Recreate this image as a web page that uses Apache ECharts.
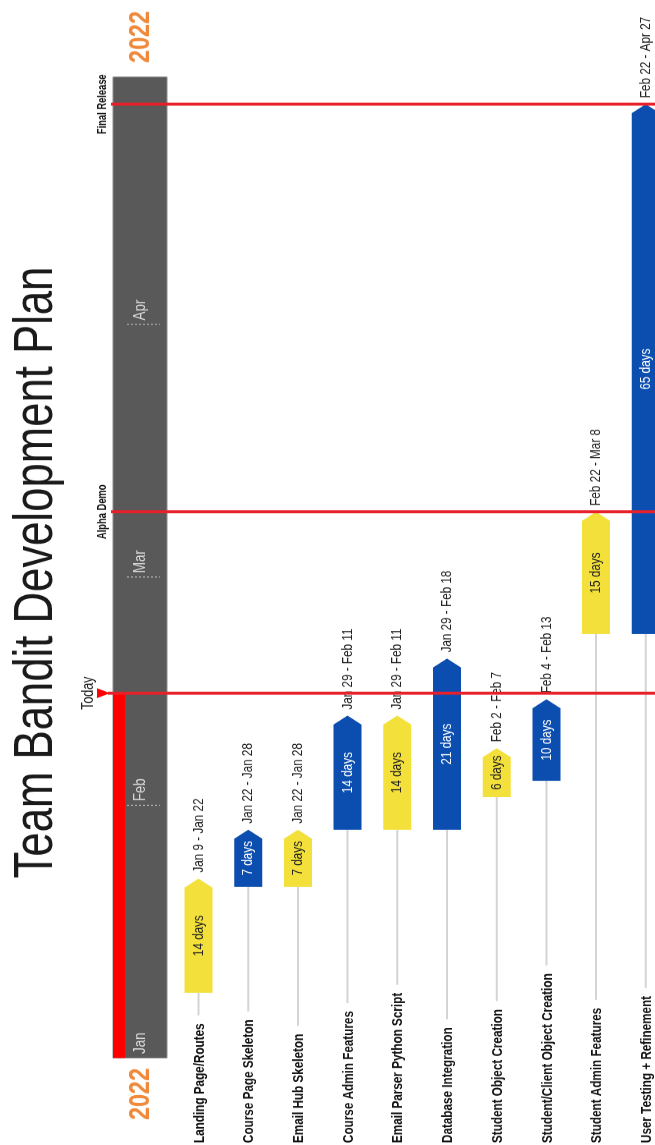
<!DOCTYPE html>
<html><head><meta charset="utf-8">
<script src="https://cdn.jsdelivr.net/npm/echarts@6/dist/echarts.min.js"></script>
<style>
html,body{margin:0;padding:0;overflow:hidden;width:655px;height:1145px;background:#fff;}
#wrap{position:absolute;left:0;top:0;width:655px;height:1145px;overflow:hidden;}
#chart{position:absolute;left:0;top:0;width:1468px;height:655px;transform-origin:0 0;transform:translate(0,1145px) rotate(-90deg) scale(0.779973,1);}
</style></head><body><div id="wrap"><div id="chart"></div></div>
<script>
// ---- data ----
const titleText = 'Team Bandit Development Plan';
const yearLabel = '2022';
const timelineStart = '2022-01-01';
const timelineEnd = '2022-05-01 08:00';
const months = ['Jan', 'Feb', 'Mar', 'Apr'];
const monthStarts = ['2022-01-01', '2022-02-01', '2022-03-01', '2022-04-01'];
const todayLabel = 'Today';
const todayDate = '2022-02-14 18:00';
const milestoneNames = ['Alpha Demo', 'Final Release'];
const milestoneDates = ['2022-03-09', '2022-04-28'];
const taskNames = ['Landing Page/Routes', 'Course Page Skeleton', 'Email Hub Skeleton', 'Course Admin Features',
  'Email Parser Python Script', 'Database Integration', 'Student Object Creation',
  'Student/Client Object Creation', 'Student Admin Features', 'User Testing + Refinement'];
const taskStarts = ['2022-01-09', '2022-01-22', '2022-01-22', '2022-01-29', '2022-01-29', '2022-01-29', '2022-02-02', '2022-02-04', '2022-02-22', '2022-02-22'];
const taskEnds = ['2022-01-22', '2022-01-28', '2022-01-28', '2022-02-11', '2022-02-11', '2022-02-18', '2022-02-07', '2022-02-13', '2022-03-08', '2022-04-27'];
const taskDays = [14, 7, 7, 14, 14, 21, 6, 10, 15, 65];
const taskDateText = ['Jan 9 - Jan 22', 'Jan 22 - Jan 28', 'Jan 22 - Jan 28', 'Jan 29 - Feb 11', 'Jan 29 - Feb 11',
  'Jan 29 - Feb 18', 'Feb 2 - Feb 7', 'Feb 4 - Feb 13', 'Feb 22 - Mar 8', 'Feb 22 - Apr 27'];
const YELLOW = '#F3E03B', BLUE = '#0B4EB0';
const taskColors = [YELLOW, BLUE, YELLOW, BLUE, YELLOW, BLUE, YELLOW, BLUE, YELLOW, BLUE];

// ---- helpers ----
const S = 1145 / 1468;
const px = v => v / S;
const FONT = "'Liberation Sans', Arial, Helvetica, sans-serif";
function parseT(s) {
  const m = s.match(/(\d+)-(\d+)-(\d+)(?: (\d+):(\d+))?/);
  return new Date(+m[1], +m[2] - 1, +m[3], +(m[4] || 0), +(m[5] || 0)).getTime();
}
function dayAfter(s) {
  const t = new Date(parseT(s));
  return new Date(t.getFullYear(), t.getMonth(), t.getDate() + 1).getTime();
}
const RED = '#E8202A';

const chart = echarts.init(document.getElementById('chart'));
const option = {
  animation: false,
  backgroundColor: '#fff',
  title: {
    text: titleText, left: 'center', top: 4,
    textStyle: { fontSize: 56, fontWeight: 'normal', color: '#1a1a1a', fontFamily: FONT }
  },
  grid: { left: px(87), right: px(77), top: 173.65, height: 472.15 },
  xAxis: { type: 'time', min: parseT(timelineStart), max: parseT(timelineEnd), show: false },
  yAxis: { type: 'value', min: -0.5, max: 9, inverse: true, show: false },
  series: [
    { // timeline band + year labels
      type: 'custom', clip: false, silent: true, z: 1,
      data: [[parseT(timelineStart), parseT(timelineEnd)]],
      encode: { x: [0, 1] },
      renderItem: (params, api) => {
        const a = api.coord([api.value(0), 0]);
        const b = api.coord([api.value(1), 0]);
        return { type: 'group', children: [
          { type: 'rect', shape: { x: a[0], y: 113, width: b[0] - a[0], height: 54 }, style: { fill: '#595959', stroke: '#8c8c8c', lineWidth: 1 } },
          { type: 'text', style: { text: yearLabel, x: a[0] - px(10), y: 141, align: 'right', verticalAlign: 'middle', font: `bold 30px ${FONT}`, fill: '#F0893A' } },
          { type: 'text', style: { text: yearLabel, x: b[0] + px(14), y: 141, align: 'left', verticalAlign: 'middle', font: `bold 30px ${FONT}`, fill: '#F0893A' } }
        ] };
      }
    },
    { // progress to today
      type: 'custom', clip: false, silent: true, z: 2,
      data: [[parseT(timelineStart), parseT(todayDate)]],
      encode: { x: [0, 1] },
      renderItem: (params, api) => {
        const a = api.coord([api.value(0), 0]);
        const b = api.coord([api.value(1), 0]);
        return { type: 'rect', shape: { x: a[0], y: 113, width: b[0] - a[0], height: 12 }, style: { fill: '#FF0000' } };
      }
    },
    { // month labels
      type: 'custom', clip: false, silent: true, z: 3,
      data: monthStarts.map((m, i) => [parseT(m), i]),
      encode: { x: 0 },
      renderItem: (params, api) => {
        const idx = api.value(1);
        const x = api.coord([api.value(0), 0])[0];
        const ch = [
          { type: 'text', style: { text: months[idx], x: x + px(4), y: 140, align: 'left', verticalAlign: 'middle', font: `17px ${FONT}`, fill: '#D9D9D9' } }
        ];
        if (idx > 0) ch.push({ type: 'line', shape: { x1: x, y1: 127, x2: x, y2: 160 }, style: { stroke: '#BDBDBD', lineWidth: px(1), lineDash: [2, 2] } });
        return { type: 'group', children: ch };
      }
    },
    { // tasks
      type: 'custom', clip: false, silent: true, z: 4,
      data: taskNames.map((n, i) => [i, parseT(taskStarts[i]), dayAfter(taskEnds[i]), taskDays[i], i]),
      encode: { x: [1, 2], y: 0 },
      renderItem: (params, api) => {
        const idx = api.value(4);
        const row = api.value(0);
        const a = api.coord([api.value(1), row]);
        const b = api.coord([api.value(2), row]);
        const y = a[1], h = 28, tip = px(9);
        const col = taskColors[idx];
        return { type: 'group', children: [
          { type: 'line', shape: { x1: px(2), y1: y, x2: a[0], y2: y }, style: { stroke: '#D4D4D4', lineWidth: 2 } },
          { type: 'text', style: { text: taskNames[idx], x: px(2), y: y + 1, align: 'left', verticalAlign: 'middle', font: `bold 15px ${FONT}`, fill: '#111', backgroundColor: '#fff', padding: [2, px(8), 2, 0] } },
          { type: 'polygon', shape: { points: [[a[0], y - h / 2], [b[0] - tip, y - h / 2], [b[0], y], [b[0] - tip, y + h / 2], [a[0], y + h / 2]] }, style: { fill: col } },
          { type: 'text', style: { text: api.value(3) + ' days', x: (a[0] + b[0]) / 2, y: y, align: 'center', verticalAlign: 'middle', font: `15px ${FONT}`, fill: col === BLUE ? '#fff' : '#222' } },
          { type: 'text', style: { text: taskDateText[idx], x: b[0] + px(6), y: y, align: 'left', verticalAlign: 'middle', font: `15px ${FONT}`, fill: '#222' } }
        ] };
      }
    },
    { // milestones
      type: 'custom', clip: false, silent: true, z: 6,
      data: milestoneDates.map((d, i) => [parseT(d), i]),
      encode: { x: 0 },
      renderItem: (params, api) => {
        const idx = api.value(1);
        const x = api.coord([api.value(0), 0])[0];
        return { type: 'group', children: [
          { type: 'line', shape: { x1: x, y1: 111, x2: x, y2: 655 }, style: { stroke: RED, lineWidth: px(3) } },
          { type: 'text', style: { text: milestoneNames[idx], x: x, y: 103, align: 'center', verticalAlign: 'middle', font: `bold 12px ${FONT}`, fill: '#111' } }
        ] };
      }
    },
    { // today
      type: 'custom', clip: false, silent: true, z: 6,
      data: [[parseT(todayDate)]],
      encode: { x: 0 },
      renderItem: (params, api) => {
        const x = api.coord([api.value(0), 0])[0];
        return { type: 'group', children: [
          { type: 'line', shape: { x1: x, y1: 108, x2: x, y2: 655 }, style: { stroke: RED, lineWidth: px(3) } },
          { type: 'polygon', shape: { points: [[x - px(5), 97], [x + px(5), 97], [x, 110]] }, style: { fill: '#FF0000' } },
          { type: 'text', style: { text: todayLabel, x: x, y: 89, align: 'center', verticalAlign: 'middle', font: `16px ${FONT}`, fill: '#222' } }
        ] };
      }
    }
  ]
};
chart.setOption(option);
</script></body></html>
